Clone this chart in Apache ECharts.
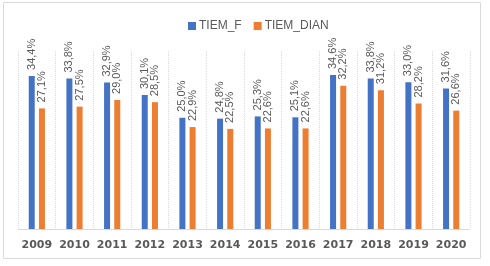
<!DOCTYPE html>
<html>
<head>
<meta charset="utf-8">
<script src="https://cdn.jsdelivr.net/npm/echarts@6/dist/echarts.min.js"></script>
<style>
    html, body { margin: 0; padding: 0; background: #fff; }
    #chart { width: 490px; height: 266px; }
</style>
</head>
<body>
<div id="chart"></div>
<script>
//年份
var years = ['2009', '2010', '2011', '2012', '2013', '2014', '2015', '2016', '2017', '2018', '2019', '2020'];
//TIEM_F
var tiemF = [34.4, 33.8, 32.9, 30.1, 25.0, 24.8, 25.3, 25.1, 34.6, 33.8, 33.0, 31.6];
//TIEM_DIAN
var tiemDian = [27.1, 27.5, 29.0, 28.5, 22.9, 22.5, 22.6, 22.6, 32.2, 31.2, 28.2, 26.6];

var label = ['TIEM_F', 'TIEM_DIAN'];
var color_bar = ['#4472C4', '#ED7D31'];

function fmtLabel(p) {
    return p.value.toFixed(1).replace('.', ',') + '%';
}

function makeSeries(name, data) {
    return {
        name: name,
        type: 'bar',
        barWidth: 6,
        barGap: '70%',
        data: data,
        label: {
            show: true,
            position: 'top',
            rotate: 90,
            align: 'left',
            verticalAlign: 'middle',
            distance: 6,
            color: '#595959',
            fontSize: 11,
            fontFamily: 'Liberation Sans',
            formatter: fmtLabel
        }
    };
}

var option = {
    color: color_bar,
    animation: false,
    graphic: [{
        type: 'rect',
        shape: { x: 3.5, y: 2.5, width: 477, height: 256 },
        style: { fill: 'none', stroke: '#d9d9d9', lineWidth: 1 },
        silent: true
    }],
    legend: {
        data: label,
        top: 15,
        left: 183,
        itemWidth: 8,
        itemHeight: 8,
        itemGap: 12,
        icon: 'rect',
        textStyle: {
            color: '#595959',
            fontSize: 12,
            fontFamily: 'Liberation Sans',
            padding: [0, 0, 0, -2]
        }
    },
    grid: {
        left: 18,
        right: 20,
        top: 51,
        bottom: 37
    },
    xAxis: [{
        type: 'category',
        data: years,
        axisLine: { lineStyle: { color: '#d9d9d9' } },
        axisTick: { show: false },
        splitLine: {
            show: true,
            lineStyle: { color: '#d9d9d9', type: 'dotted' }
        },
        axisLabel: {
            color: '#595959',
            fontSize: 11,
            fontWeight: 'bold',
            fontFamily: 'DejaVu Sans',
            margin: 11,
            interval: 0
        }
    }],
    yAxis: [{
        type: 'value',
        min: 0,
        max: 40,
        show: false,
        splitLine: { show: false }
    }],
    series: [makeSeries(label[0], tiemF), makeSeries(label[1], tiemDian)]
};

var dom_chart = echarts.init(document.getElementById('chart'));
dom_chart.setOption(option);
</script>
</body>
</html>
